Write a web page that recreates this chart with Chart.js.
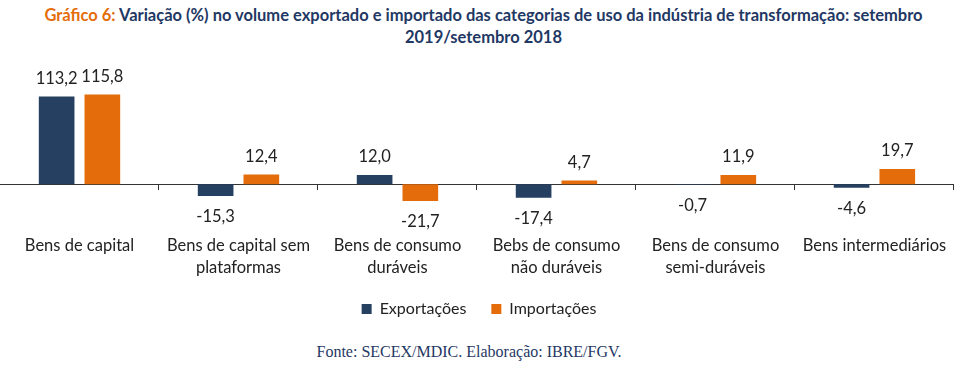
<!DOCTYPE html>
<html>
<head>
<meta charset="utf-8">
<script src="https://cdn.jsdelivr.net/npm/chart.js@4.4.1/dist/chart.umd.min.js"></script>
<style>
  body { margin: 0; background: #fff; width: 967px; height: 375px; position: relative; overflow: hidden; }
  #title { position: absolute; top: 4px; left: 0; width: 967px; text-align: center; font-family: Lato, sans-serif; font-weight: bold; font-size: 16.5px; line-height: 22px; color: #1F3864; }
  #title span { color: #E46C0A; }
  #wrap { position: absolute; top: 55px; left: 0; width: 967px; height: 272px; }
  #source { position: absolute; top: 343px; left: 0; width: 938px; text-align: center; font-family: "Liberation Serif", serif; font-size: 16px; color: #1F3864; }
</style>
</head>
<body>
<div id="title"><span>Gráfico 6:</span> Variação (%) no volume exportado e importado das categorias de uso da indústria de transformação: setembro<br>2019/setembro 2018</div>
<div id="wrap"><canvas id="chart"></canvas></div>
<div id="source">Fonte: SECEX/MDIC. Elaboração: IBRE/FGV.</div>
<script>
// Categorias e séries
const categories = [
  ["Bens de capital"],
  ["Bens de capital sem", "plataformas"],
  ["Bens de consumo", "duráveis"],
  ["Bebs de consumo", "não duráveis"],
  ["Bens de consumo", "semi-duráveis"],
  ["Bens intermediários"]
];
const exportacoes = [113.2, -15.3, 12.0, -17.4, -0.7, -4.6];
const importacoes = [115.8, 12.4, -21.7, 4.7, 11.9, 19.7];

const navy = "#254061";
const orange = "#E46C0A";

// Rótulos de valor (vírgula decimal)
const valueLabels = {
  id: "valueLabels",
  afterDatasetsDraw(chart) {
    const ctx = chart.ctx;
    ctx.save();
    ctx.font = "16.5px Lato";
    ctx.fillStyle = "#222";
    ctx.textAlign = "center";
    ctx.textBaseline = "middle";
    chart.data.datasets.forEach((ds, i) => {
      chart.getDatasetMeta(i).data.forEach((bar, j) => {
        const v = ds.data[j];
        const y = v >= 0 ? bar.y - 18 : bar.y + 21;
        ctx.fillText(v.toFixed(1).replace(".", ","), bar.x, y);
      });
    });
    ctx.restore();
  }
};

new Chart(document.getElementById("chart"), {
  type: "bar",
  data: {
    labels: categories,
    datasets: [
      { label: "Exportações", data: exportacoes, backgroundColor: navy },
      { label: "Importações", data: importacoes, backgroundColor: orange }
    ]
  },
  options: {
    responsive: true,
    maintainAspectRatio: false,
    animation: false,
    categoryPercentage: 0.575,
    barPercentage: 0.78,
    layout: { padding: { left: 0, right: 9, top: 0, bottom: 0 } },
    scales: {
      x: {
        grid: { display: false, drawTicks: false },
        border: { display: false },
        ticks: { color: "#222", font: { family: "Lato", size: 16.5, lineHeight: 1.33 }, padding: 20, maxRotation: 0, autoSkip: false },
        afterFit(scale) { scale.height -= 23; }
      },
      x2: {
        type: "category",
        position: { y: 0 },
        offset: true,
        grid: { offset: true, drawOnChartArea: false, drawTicks: true, tickLength: 5, color: "#333" },
        border: { display: true, color: "#333", width: 1 },
        ticks: { display: false }
      },
      y: {
        display: false,
        min: -40,
        max: 167
      }
    },
    plugins: {
      legend: {
        position: "bottom",
        labels: { color: "#222", font: { family: "Lato", size: 16 }, boxWidth: 10, boxHeight: 10, padding: 25 }
      },
      tooltip: { enabled: false }
    }
  },
  plugins: [valueLabels]
});
</script>
</body>
</html>
